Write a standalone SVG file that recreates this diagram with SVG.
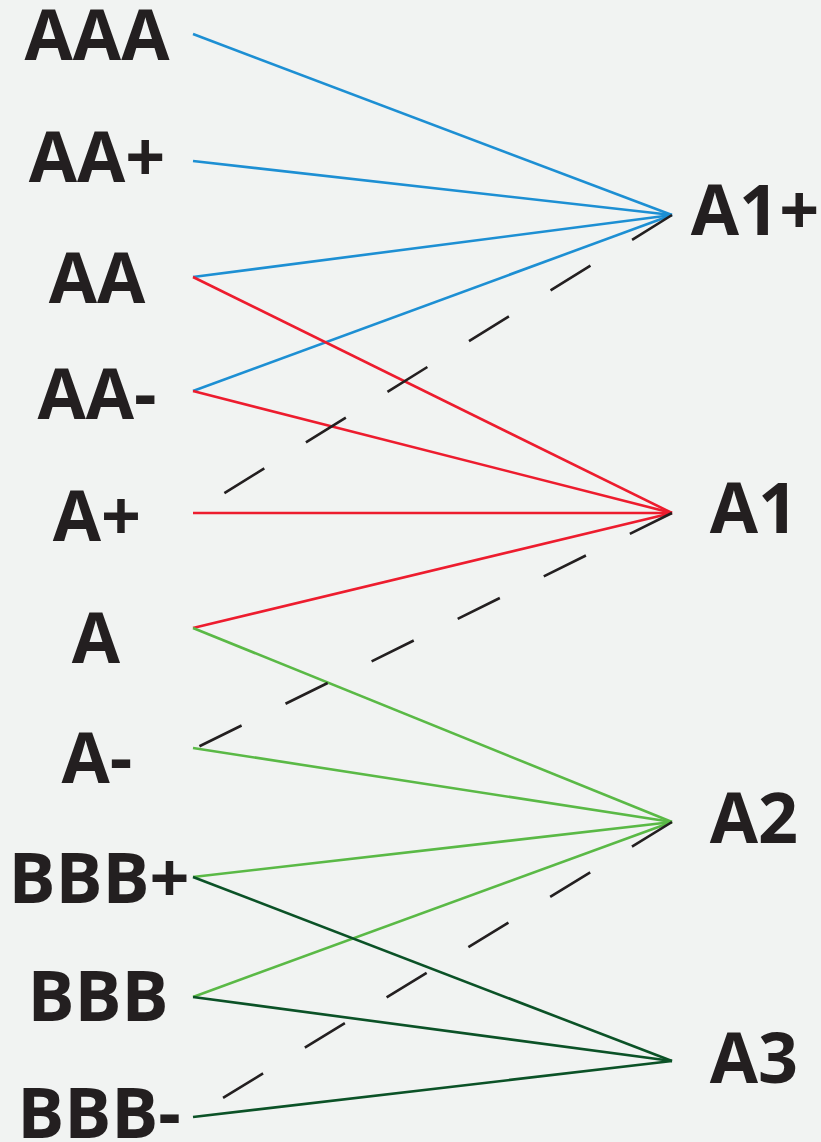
<svg xmlns="http://www.w3.org/2000/svg" width="821" height="1142" viewBox="0 0 821 1142">
<style>
.lbl{font-family:"Open Sans","Liberation Sans",sans-serif;font-weight:700;font-size:70px;fill:#231f20;text-anchor:middle}
.c{fill:none;stroke-width:2.6;stroke-linecap:butt}
.blue{stroke:#1d8fd3}
.red{stroke:#ed1c2e}
.lg{stroke:#5ab946}
.dg{stroke:#0b5227}
.dash{fill:none;stroke:#231f20;stroke-width:2.6;stroke-dasharray:47 49}
</style>
<rect x="0" y="0" width="821" height="1142" fill="#f1f3f2"/>
<g id="connectors">
<line class="c blue" x1="193" y1="34" x2="672" y2="215"/>
<line class="c blue" x1="193" y1="161" x2="672" y2="215"/>
<line class="c blue" x1="193" y1="277" x2="672" y2="215"/>
<line class="c blue" x1="193" y1="391" x2="672" y2="215"/>
<line class="c red" x1="193" y1="277" x2="672" y2="513"/>
<line class="c red" x1="193" y1="391" x2="672" y2="513"/>
<line class="c red" x1="193" y1="513" x2="672" y2="513"/>
<line class="c red" x1="193" y1="628" x2="672" y2="513"/>
<line class="c lg" x1="193" y1="628" x2="672" y2="822"/>
<line class="c lg" x1="193" y1="748" x2="672" y2="822"/>
<line class="c lg" x1="193" y1="877" x2="672" y2="822"/>
<line class="c lg" x1="193" y1="997" x2="672" y2="822"/>
<line class="c dg" x1="193" y1="877" x2="672" y2="1061"/>
<line class="c dg" x1="193" y1="997" x2="672" y2="1061"/>
<line class="c dg" x1="193" y1="1117" x2="672" y2="1061"/>
<line class="dash" x1="672" y1="215" x2="223" y2="494"/>
<line class="dash" x1="672" y1="513" x2="198" y2="747"/>
<line class="dash" x1="672" y1="822" x2="223" y2="1098"/>
</g>
<g id="n-AAA"><text class="lbl" x="97" y="60">AAA</text></g>
<g id="n-AAplus"><text class="lbl" x="97" y="182">AA+</text></g>
<g id="n-AA"><text class="lbl" x="97" y="303">AA</text></g>
<g id="n-AAminus"><text class="lbl" x="97" y="419">AA-</text></g>
<g id="n-Aplus"><text class="lbl" x="97" y="541">A+</text></g>
<g id="n-A"><text class="lbl" x="96" y="663">A</text></g>
<g id="n-Aminus"><text class="lbl" x="97" y="783">A-</text></g>
<g id="n-BBBplus"><text class="lbl" x="99" y="903">BBB+</text></g>
<g id="n-BBB"><text class="lbl" x="98" y="1021">BBB</text></g>
<g id="n-BBBminus"><text class="lbl" x="99" y="1138">BBB-</text></g>
<g id="n-A1plus"><text class="lbl" x="755" y="235">A1+</text></g>
<g id="n-A1"><text class="lbl" x="754" y="533">A1</text></g>
<g id="n-A2"><text class="lbl" x="754" y="843">A2</text></g>
<g id="n-A3"><text class="lbl" x="754" y="1083">A3</text></g>
</svg>
